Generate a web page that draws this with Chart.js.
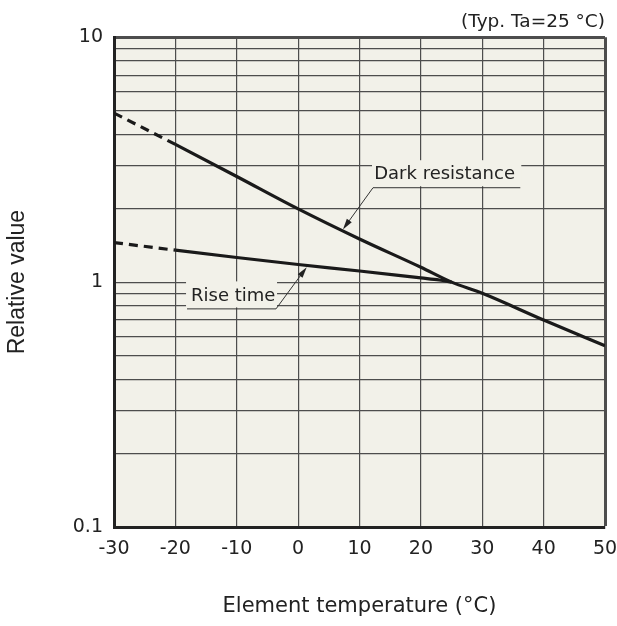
<!DOCTYPE html>
<html>
<head>
<meta charset="utf-8">
<script src="https://cdn.jsdelivr.net/npm/chart.js@4/dist/chart.umd.min.js"></script>
<style>
  html, body { margin: 0; padding: 0; background: #fff; }
  #wrap { width: 617px; height: 626px; }
</style>
</head>
<body>
<div id="wrap"><canvas id="temp-graph" width="617" height="626"></canvas></div>
<script>
// values
var darkTemps = [-30, -20, -10, 0, 10, 20, 25, 30, 40, 50];
var darkResistance = [4.9, 3.65, 2.70, 1.99, 1.50, 1.15, 1.0, 0.90, 0.70, 0.55];
var riseTemps = [-30, -20, -10, 0, 10, 20, 23, 25];
var riseTime = [1.45, 1.35, 1.26, 1.18, 1.11, 1.04, 1.02, 1.0];
var xTicks = [-30, -20, -10, 0, 10, 20, 30, 40, 50];
var yLabels = [0.1, 1, 10];
var dashedBelow = -20; // extrapolated part of both curves

// gridlines at 1..9 x 10^n on the log axis
var yGrid = [];
[0.1, 1].forEach(function(d) {
	for (var m = 1; m < 10; m++) yGrid.push(+(d * m).toFixed(2));
});
yGrid.push(10);

var font = "'DejaVu Sans', Verdana, sans-serif";

function toPoints(xs, ys) {
	return xs.map(function(x, i) { return {x: x, y: ys[i]}; });
}

// callout labels, anchored in data units
var callouts = [
	{text: "Dark resistance", at: [12.4, 2.75], line: [12.2, 36.2, 2.44], from: "start", tip: [7.3, 1.64]},
	{text: "Rise time", at: [-17.45, 0.874], line: [-18.1, -3.6, 0.781], from: "end", tip: [1.4, 1.151]}
];

var areaBg = {
	id: "areaBg",
	beforeDraw: function(chart) {
		var a = chart.chartArea, c = chart.ctx;
		c.save();
		c.fillStyle = "#f2f1e9";
		c.fillRect(a.left, a.top, a.right - a.left, a.bottom - a.top);
		c.restore();
	}
};

var calloutPlugin = {
	id: "callouts",
	afterDatasetsDraw: function(chart) {
		var c = chart.ctx, xs = chart.scales.x, ys = chart.scales.y;
		c.save();
		callouts.forEach(function(o) {
			var x0 = xs.getPixelForValue(o.line[0]), x1 = xs.getPixelForValue(o.line[1]);
			var uy = ys.getPixelForValue(o.line[2]);
			// box hiding the grid behind the text
			c.fillStyle = "#f2f1e9";
			c.fillRect(x0 - 1, uy - 27, x1 - x0 + 2, 26);
			c.fillStyle = "#222";
			c.font = "18px " + font;
			c.textAlign = "left";
			c.textBaseline = "middle";
			c.fillText(o.text, xs.getPixelForValue(o.at[0]), ys.getPixelForValue(o.at[1]));
			c.strokeStyle = "#333";
			c.lineWidth = 1;
			c.beginPath();
			c.moveTo(x0, uy + 0.5);
			c.lineTo(x1, uy + 0.5);
			c.stroke();
			// leader with arrow
			var sx = o.from === "start" ? x0 : x1;
			var tx = xs.getPixelForValue(o.tip[0]), ty = ys.getPixelForValue(o.tip[1]);
			var ang = Math.atan2(ty - uy, tx - sx);
			c.beginPath();
			c.moveTo(sx, uy + 0.5);
			c.lineTo(tx - 8 * Math.cos(ang), ty - 8 * Math.sin(ang));
			c.stroke();
			c.fillStyle = "#222";
			c.beginPath();
			c.moveTo(tx, ty);
			c.lineTo(tx - 11 * Math.cos(ang) + 3 * Math.sin(ang), ty - 11 * Math.sin(ang) - 3 * Math.cos(ang));
			c.lineTo(tx - 11 * Math.cos(ang) - 3 * Math.sin(ang), ty - 11 * Math.sin(ang) + 3 * Math.cos(ang));
			c.closePath();
			c.fill();
		});
		c.restore();
	}
};

function curve(label, xs, ys) {
	return {
		label: label,
		data: toPoints(xs, ys),
		borderColor: "#1a1a1a",
		borderWidth: 3.2,
		pointRadius: 0,
		fill: false,
		cubicInterpolationMode: "monotone",
		segment: {
			borderDash: function(ctx) { return ctx.p0.parsed.x < dashedBelow ? [9, 6] : undefined; }
		}
	};
}

var ctx = document.getElementById("temp-graph").getContext("2d");
var tempChart = new Chart(ctx, {
	type: "line",
	data: {
		datasets: [
			curve("Dark resistance", darkTemps, darkResistance),
			curve("Rise time", riseTemps, riseTime)
		]
	},
	options: {
		responsive: false,
		animation: false,
		layout: { padding: { left: 0, right: 12, top: 0, bottom: 0 } },
		plugins: {
			legend: { display: false },
			tooltip: { enabled: false },
			title: {
				display: true,
				text: "(Typ. Ta=25 °C)",
				align: "end",
				color: "#222",
				font: { family: font, size: 18.5, weight: "normal" },
				padding: { top: 11, bottom: 4 }
			}
		},
		scales: {
			x: {
				type: "linear",
				min: -30,
				max: 50,
				afterBuildTicks: function(s) { s.ticks = xTicks.map(function(v) { return {value: v}; }); },
				afterFit: function(s) { s.height = 99; s.paddingLeft = 0; s.paddingRight = 0; },
				grid: {
					drawTicks: false,
					color: "#4d4d4d",
					lineWidth: function(c) { return c.tick && c.tick.value === 50 ? 3 : 1.2; }
				},
				border: { display: true, color: "#222", width: 3 },
				ticks: {
					color: "#222",
					padding: 11,
					font: { family: font, size: 19 },
					maxRotation: 0,
					autoSkip: false
				},
				title: {
					display: true,
					text: "Element temperature (°C)",
					color: "#222",
					font: { family: font, size: 21 },
					padding: { top: 0, bottom: 6.4 }
				}
			},
			y: {
				type: "logarithmic",
				min: 0.1,
				max: 10,
				afterBuildTicks: function(s) { s.ticks = yGrid.map(function(v) { return {value: v}; }); },
				afterFit: function(s) { s.width = 114; },
				grid: {
					drawTicks: false,
					color: "#4d4d4d",
					lineWidth: function(c) { return c.tick && c.tick.value === 10 ? 3 : 1.2; }
				},
				border: { display: true, color: "#222", width: 3 },
				ticks: {
					color: "#222",
					padding: 11,
					autoSkip: false,
					font: { family: font, size: 19 },
					callback: function(v) { return yLabels.indexOf(v) >= 0 ? String(v) : ""; }
				},
				title: {
					display: true,
					text: "Relative value",
					color: "#222",
					font: { family: "'Liberation Sans', Arial, sans-serif", size: 23 },
					padding: { top: 4.3, bottom: 0 }
				}
			}
		}
	},
	plugins: [areaBg, calloutPlugin]
});
</script>
</body>
</html>
